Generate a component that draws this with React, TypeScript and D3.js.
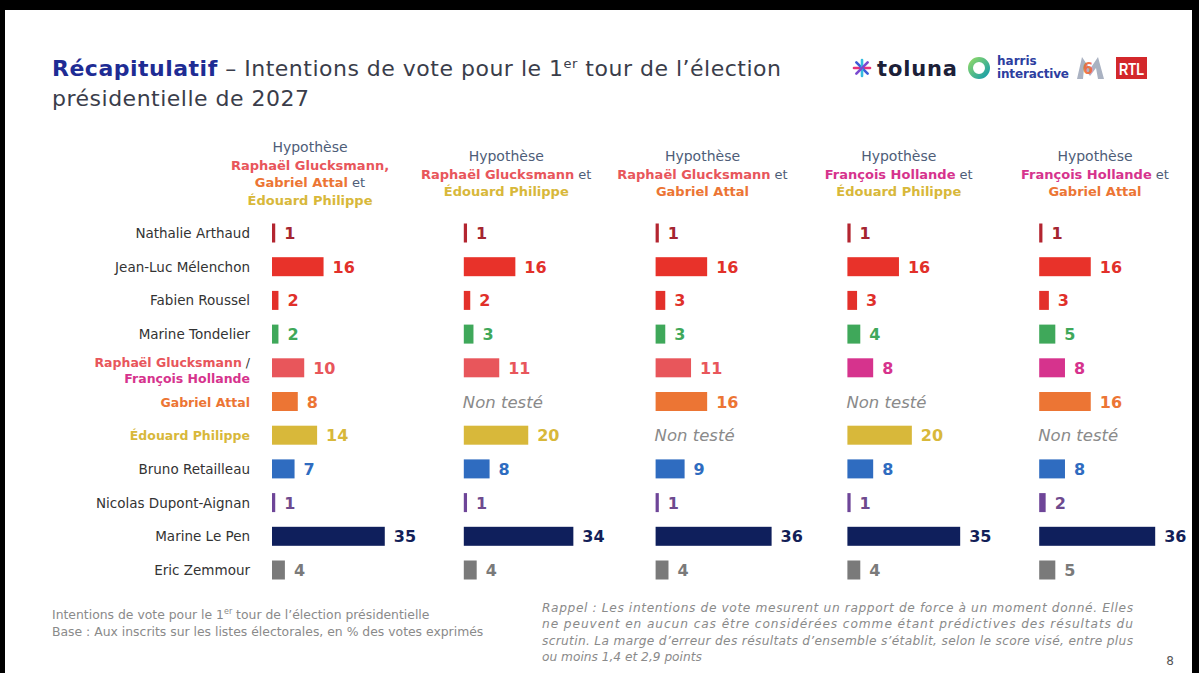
import React, { useEffect, useRef } from "react";
import * as d3 from "d3";

// candidates, in display order
const candidates = [
  "Nathalie Arthaud",
  "Jean-Luc Mélenchon",
  "Fabien Roussel",
  "Marine Tondelier",
  "Raphaël Glucksmann / François Hollande",
  "Gabriel Attal",
  "Édouard Philippe",
  "Bruno Retailleau",
  "Nicolas Dupont-Aignan",
  "Marine Le Pen",
  "Eric Zemmour",
];

// scores per hypothesis (null = "Non testé")
const hyp1 = [1, 16, 2, 2, 10, 8, 14, 7, 1, 35, 4];
const hyp2 = [1, 16, 2, 3, 11, null, 20, 8, 1, 34, 4];
const hyp3 = [1, 16, 3, 3, 11, 16, null, 9, 1, 36, 4];
const hyp4 = [1, 16, 3, 4, 8, null, 20, 8, 1, 35, 4];
const hyp5 = [1, 16, 3, 5, 8, 16, null, 8, 2, 36, 5];
const hypotheses = [hyp1, hyp2, hyp3, hyp4, hyp5];

// who stands for the socialists in each hypothesis
const psCandidate = ["gluck", "gluck", "gluck", "hollande", "hollande"];

// header text, one array of [text, colorKey] segments per line
const headers = [
  [
    [["Hypothèse", "plain"]],
    [["Raphaël Glucksmann,", "gluck"]],
    [["Gabriel Attal", "attal"], [" et", "plain"]],
    [["Édouard Philippe", "philippe"]],
  ],
  [
    [["Hypothèse", "plain"]],
    [["Raphaël Glucksmann", "gluck"], [" et", "plain"]],
    [["Édouard Philippe", "philippe"]],
  ],
  [
    [["Hypothèse", "plain"]],
    [["Raphaël Glucksmann", "gluck"], [" et", "plain"]],
    [["Gabriel Attal", "attal"]],
  ],
  [
    [["Hypothèse", "plain"]],
    [["François Hollande", "hollande"], [" et", "plain"]],
    [["Édouard Philippe", "philippe"]],
  ],
  [
    [["Hypothèse", "plain"]],
    [["François Hollande", "hollande"], [" et", "plain"]],
    [["Gabriel Attal", "attal"]],
  ],
];

const palette: Record<string, string> = {
  plain: "#4e5d78",
  gluck: "#e8565b",
  hollande: "#d6338d",
  attal: "#ec7534",
  philippe: "#d8b83a",
};

const barColors = [
  "#b32530", "#e8322a", "#e3302a", "#3fa85a", "gluck", "#ec7534",
  "#d8b83a", "#2f6cc0", "#6e4598", "#0f1f5c", "#7a7a7a",
];
const valueColors = [
  "#a52530", "#e2302a", "#e0302a", "#3fa85a", "gluck", "#ec7534",
  "#d8b83a", "#2f6cc0", "#6e4a8e", "#131f58", "#7a7a7a",
];

const noteLines = [
  "Rappel : Les intentions de vote mesurent un rapport de force à un moment donné. Elles",
  "ne peuvent en aucun cas être considérées comme étant prédictives des résultats du",
  "scrutin. La marge d’erreur des résultats d’ensemble s’établit, selon le score visé, entre plus",
  "ou moins 1,4 et 2,9 points",
];

const FONT = "'DejaVu Sans', sans-serif";

export default function App() {
  const ref = useRef<SVGSVGElement>(null);

  useEffect(() => {
    const width = 1199;
    const height = 673;
    const svg = d3.select(ref.current);
    svg.selectAll("*").remove();

    // black frame of the screenshot
    svg.append("rect").attr("width", width).attr("height", height).attr("fill", "#000");
    svg.append("rect").attr("x", 5).attr("y", 10).attr("width", 1187).attr("height", 663).attr("fill", "#fff");

    // title
    const title = svg.append("text").attr("x", 52).attr("y", 76)
      .style("font-family", FONT).style("font-size", "22px").style("letter-spacing", "0.5px")
      .attr("fill", "#3a3d4a");
    title.append("tspan").text("Récapitulatif").attr("fill", "#1e2c94").style("font-weight", "bold");
    title.append("tspan").text(" – Intentions de vote pour le 1");
    title.append("tspan").text("er").attr("dy", -8).style("font-size", "13px");
    title.append("tspan").text(" tour de l’élection").attr("dy", 8);
    svg.append("text").attr("x", 52).attr("y", 106)
      .style("font-family", FONT).style("font-size", "22px").style("letter-spacing", "0.5px")
      .attr("fill", "#3a3d4a")
      .text("présidentielle de 2027");

    // logos
    const logo = svg.append("g");
    const ast = [["#e8337a", 0], ["#3c5bd8", 45], ["#35bde0", 90], ["#7b4ad0", 135]];
    ast.forEach(([c, a]) => {
      logo.append("line").attr("x1", -8).attr("x2", 8).attr("y1", 0).attr("y2", 0)
        .attr("stroke", c as string).attr("stroke-width", 2.6).attr("stroke-linecap", "round")
        .attr("transform", `translate(862,68) rotate(${a})`);
    });
    logo.append("text").attr("x", 877).attr("y", 76).text("toluna")
      .style("font-family", FONT).style("font-weight", "bold").style("font-size", "21px")
      .attr("fill", "#1c2038").attr("textLength", 80);
    const grad = svg.append("defs").append("linearGradient").attr("id", "ring")
      .attr("x1", "0").attr("y1", "0").attr("x2", "1").attr("y2", "1");
    grad.append("stop").attr("offset", "0").attr("stop-color", "#8ad66a");
    grad.append("stop").attr("offset", "1").attr("stop-color", "#1a9fa8");
    logo.append("circle").attr("cx", 979).attr("cy", 68).attr("r", 8.5)
      .attr("fill", "none").attr("stroke", "url(#ring)").attr("stroke-width", 5);
    logo.append("text").attr("x", 997).attr("y", 65).text("harris")
      .style("font-family", FONT).style("font-weight", "bold").style("font-size", "12px").attr("fill", "#2c3ea0");
    logo.append("text").attr("x", 997).attr("y", 78).text("interactive")
      .style("font-family", FONT).style("font-weight", "bold").style("font-size", "12px").attr("fill", "#2c3ea0")
      .attr("textLength", 72);
    // M6: grey M with the orange 6 inside its left part
    logo.append("path")
      .attr("d", "M1077,79 L1082,57 L1090,69 L1098,57 L1104,79 L1098,79 L1096,68 L1090,76 L1084,68 L1083,79 Z")
      .attr("fill", "#aab2c2");
    logo.append("text").attr("x", 1088).attr("y", 74).attr("text-anchor", "middle").text("6")
      .style("font-family", FONT).style("font-weight", "bold").style("font-size", "15px")
      .attr("fill", "#ef6a3a").attr("opacity", 0.9);
    logo.append("rect").attr("x", 1116).attr("y", 57).attr("width", 31).attr("height", 22).attr("fill", "#d3282b");
    logo.append("text").attr("x", 1131.5).attr("y", 75).attr("text-anchor", "middle").text("RTL")
      .style("font-family", "'Liberation Sans Narrow', 'Liberation Sans', sans-serif")
      .style("font-weight", "bold").style("font-size", "17px").attr("fill", "#fff")
      .attr("textLength", 25).attr("lengthAdjust", "spacingAndGlyphs");

    // scales
    const cols = d3.range(hypotheses.length);
    const colX = d3.scaleBand<number>().domain(cols).range([272, 272 + 5 * 191.8]);
    const headX = d3.scalePoint<number>().domain(cols).range([310, 1095]);
    const y = d3.scalePoint<string>().domain(candidates).range([233, 570]);
    const w = d3.scaleLinear().domain([0, 36]).range([0, 116]);
    const barH = 19;

    // headers, vertically centred on the same line
    headers.forEach((lines, ci) => {
      const step = 17.7;
      const y0 = 173.5 - ((lines.length - 1) * step) / 2 + 5;
      lines.forEach((segs, li) => {
        const t = svg.append("text").attr("x", headX(ci)!).attr("y", y0 + li * step)
          .attr("text-anchor", "middle").style("font-family", FONT).style("font-size", "13px");
        segs.forEach(([txt, key]) => {
          const plain = key === "plain";
          t.append("tspan").text(txt).attr("fill", palette[key])
            .style("font-weight", plain ? "normal" : "bold")
            .style("font-size", plain && li === 0 ? "14px" : "13px");
        });
      });
    });

    // row labels
    const labels = svg.append("g").style("font-family", FONT).style("font-size", "13.5px");
    candidates.forEach((name, i) => {
      const cy = y(name)!;
      if (i === 4) {
        const l1 = labels.append("text").attr("x", 250).attr("y", cy - 1).attr("text-anchor", "end")
          .style("font-size", "12.5px");
        l1.append("tspan").text("Raphaël Glucksmann").attr("fill", palette.gluck).style("font-weight", "bold");
        l1.append("tspan").text(" /").attr("fill", "#333");
        labels.append("text").attr("x", 250).attr("y", cy + 15).attr("text-anchor", "end")
          .style("font-size", "12.5px")
          .text("François Hollande").attr("fill", palette.hollande).style("font-weight", "bold");
        return;
      }
      const special = i === 5 ? palette.attal : i === 6 ? palette.philippe : null;
      labels.append("text").attr("x", 250).attr("y", cy + 5).attr("text-anchor", "end")
        .text(name).attr("fill", special || "#333")
        .style("font-size", special ? "12.5px" : "13.5px")
        .style("font-weight", special ? "bold" : "normal");
    });

    // bars and values
    hypotheses.forEach((vals, ci) => {
      const g = svg.append("g").attr("transform", `translate(${colX(ci)},0)`);
      vals.forEach((v, i) => {
        const cy = y(candidates[i])!;
        let c = barColors[i];
        let vc = valueColors[i];
        if (i === 4) c = vc = palette[psCandidate[ci]];
        if (v === null) {
          g.append("text").attr("x", -1).attr("y", cy + 6).text("Non testé")
            .style("font-family", FONT).style("font-style", "italic").style("font-size", "16.5px")
            .attr("fill", "#8a8a8a");
          return;
        }
        g.append("rect").attr("x", 0).attr("y", cy - barH / 2)
          .attr("width", Math.max(w(v), 2)).attr("height", barH).attr("fill", c);
        g.append("text").attr("x", Math.max(w(v), 2) + 9).attr("y", cy + 6).text(v)
          .style("font-family", FONT).style("font-weight", "bold").style("font-size", "16px")
          .attr("fill", vc);
      });
    });

    // footer
    const foot = svg.append("g").style("font-family", FONT).style("font-size", "12.4px").attr("fill", "#8a8a8a");
    const f1 = foot.append("text").attr("x", 52).attr("y", 619);
    f1.append("tspan").text("Intentions de vote pour le 1");
    f1.append("tspan").text("er").attr("dy", -5).style("font-size", "8px");
    f1.append("tspan").text(" tour de l’élection présidentielle").attr("dy", 5);
    foot.append("text").attr("x", 52).attr("y", 636)
      .text("Base : Aux inscrits sur les listes électorales, en % des votes exprimés");

    noteLines.forEach((line, i) => {
      const t = foot.append("text").attr("x", 542).attr("y", 612 + i * 16.4)
        .style("font-style", "italic").style("font-size", "12.2px").text(line);
      if (i < noteLines.length - 1) t.attr("textLength", 591).attr("lengthAdjust", "spacing");
    });
    svg.append("text").attr("x", 1170).attr("y", 665).attr("text-anchor", "middle").text("8")
      .style("font-family", FONT).style("font-size", "12px").attr("fill", "#555");
  }, []);

  return (
    <svg
      ref={ref}
      width={1199}
      height={673}
      style={{ position: "absolute", left: 0, top: 0, display: "block" }}
    />
  );
}
